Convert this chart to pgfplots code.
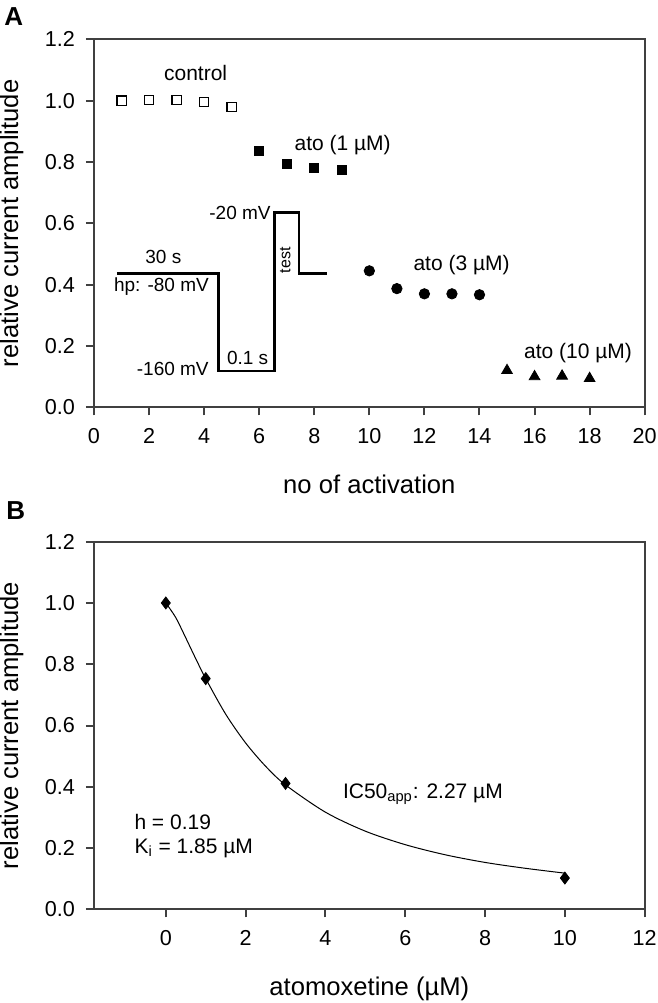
\documentclass[border=0pt]{standalone}
\usepackage{fontspec}
\setmainfont{Liberation Sans}
\usepackage{pgfplots}
\pgfplotsset{compat=1.18}
\newcommand{\tickfont}{\fontsize{10.8}{12}\selectfont}
\newcommand{\labfont}{\fontsize{12.8}{15}\selectfont}
\newcommand{\annfont}{\fontsize{10.5}{12.5}\selectfont}
\newcommand{\wavefont}{\fontsize{9.5}{11}\selectfont}
\pgfplotsset{
  panel/.style={
    scale only axis, width=275.35pt, anchor=south west, clip=false,
    axis line style={black!75, line width=1pt},
    tick style={black!75, line width=1pt},
    tick align=outside, major tick length=4pt,
    xtick pos=bottom, ytick pos=left,
    /pgf/number format/assume math mode=true,
    tick label style={font=\tickfont},
    xticklabel style={yshift=-3pt},
    yticklabel style={xshift=-2pt, /pgf/number format/.cd, fixed, fixed zerofill, precision=1},
    label style={font=\labfont},
    xlabel style={at={(axis description cs:0.5,-0.2337)}, anchor=base},
    ylabel style={at={(axis description cs:-0.138,0.5)}, anchor=base},
    ymin=0, ymax=1.2, ytick={0,0.2,...,1.2},
  }
}
\begin{document}
\begin{tikzpicture}
\path[use as bounding box] (0pt,0pt) rectangle (329pt,501.5pt);
\node[anchor=north west, inner sep=0pt, font=\fontsize{13}{15}\selectfont\bfseries] at (2pt,498pt) {A};
\node[anchor=north west, inner sep=0pt, font=\fontsize{13}{15}\selectfont\bfseries] at (3pt,251pt) {B};
% Panel A
\begin{axis}[panel, at={(47pt,297.85pt)}, height=184pt,
  xmin=0, xmax=20, xtick={0,2,...,20},
  xlabel={no of activation}, ylabel={relative current amplitude}]
\addplot[only marks, mark=square*, mark size=2.3pt, mark options={fill=white, draw=black, line width=0.6pt}]
  coordinates {(1,1.000) (2,1.002) (3,1.003) (4,0.995) (5,0.980)};
\addplot[only marks, mark=square*, mark size=2.3pt, black]
  coordinates {(6,0.836) (7,0.794) (8,0.781) (9,0.775)};
\addplot[only marks, mark=*, mark size=2.6pt, black]
  coordinates {(10,0.445) (11,0.387) (12,0.370) (13,0.370) (14,0.367)};
\addplot[only marks, mark=triangle*, mark size=3.1pt, black]
  coordinates {(15,0.120) (16,0.100) (17,0.102) (18,0.094)};
\addplot[black, line width=1.3pt, no marks, sharp plot]
  coordinates {(0.83,0.436) (4.53,0.436) (4.53,0.118) (6.56,0.118) (6.56,0.636) (7.44,0.636) (7.44,0.436) (8.46,0.436)};
\node[anchor=base, font=\annfont] at (axis cs:3.69,1.067) {control};
\node[anchor=base, font=\annfont] at (axis cs:9.03,0.837) {ato (1 µM)};
\node[anchor=base, font=\annfont] at (axis cs:13.35,0.445) {ato (3 µM)};
\node[anchor=base, font=\annfont] at (axis cs:17.58,0.160) {ato (10 µM)};
\node[anchor=base, font=\wavefont] at (axis cs:2.52,0.470) {30 s};
\node[anchor=base, font=\wavefont] at (axis cs:2.45,0.377) {hp: -80 mV};
\node[anchor=base east, font=\wavefont, inner sep=0pt] at (axis cs:4.18,0.105) {-160 mV};
\node[anchor=base, font=\wavefont] at (axis cs:5.58,0.138) {0.1 s};
\node[anchor=base east, font=\wavefont, inner sep=0pt] at (axis cs:6.43,0.611) {-20 mV};
\node[anchor=base, rotate=90, font=\fontsize{8}{9}\selectfont] at (axis cs:7.13,0.479) {test};
\end{axis}
% Panel B
\begin{axis}[panel, at={(47pt,46.85pt)}, height=183.8pt,
  xmin=-1.8, xmax=12, xtick={0,2,...,12},
  xlabel={atomoxetine (µM)}, ylabel={relative current amplitude}]
\addplot[black, line width=0.5pt, smooth, no marks]
  coordinates {(0,1.0) (0.25,0.952) (0.5,0.886) (0.75,0.818) (1,0.753) (1.5,0.637) (2,0.543) (2.5,0.467) (3,0.406) (4,0.317) (5,0.255) (6,0.211) (7,0.178) (8,0.153) (9,0.134) (10,0.118)};
\addplot[only marks, mark=diamond*, mark size=3pt, black]
  coordinates {(0,1.0) (1,0.753) (3,0.411) (10,0.102)};
\node[anchor=base west, font=\annfont, inner sep=0pt] at (axis cs:-0.795,0.261) {h = 0.19};
\node[anchor=base west, font=\annfont, inner sep=0pt] at (axis cs:-0.795,0.183) {K\textsubscript{i} = 1.85 µM};
\node[anchor=base west, font=\annfont, inner sep=0pt] at (axis cs:4.43,0.362) {IC50\textsubscript{app}: 2.27 µM};
\end{axis}
\end{tikzpicture}
\end{document}
